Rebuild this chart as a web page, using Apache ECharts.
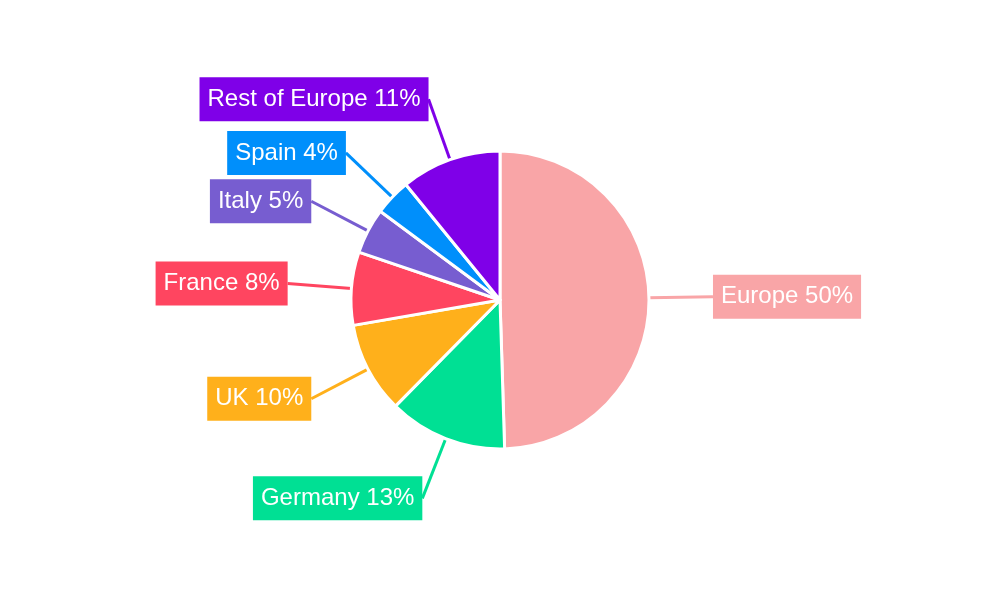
<!DOCTYPE html>
<html><head><meta charset="utf-8">
<script src="https://cdn.jsdelivr.net/npm/echarts@6/dist/echarts.min.js"></script>
<style>html,body{margin:0;padding:0;background:#fff}#c{width:1000px;height:600px}</style>
</head><body><div id="c"></div>
<script>
const categories = ["Europe","Germany","UK","France","Italy","Spain","Rest of Europe"];
const values = [50,13,10,8,5,4,11];
const colors = ["#F9A5A7","#00E094","#FFB01B","#FF4560","#775DD0","#008FFB","#7F00E8"];
const chart = echarts.init(document.getElementById('c'));
chart.setOption({
  animation:false,
  series:[{
    type:'pie',
    center:[500,300],
    radius:[0,149],
    startAngle:90,
    clockwise:true,
    itemStyle:{borderColor:'#fff',borderWidth:3},
    label:{
      show:true,
      formatter:p=>p.name+' '+p.value+'%',
      color:'#fff',
      fontFamily:'Liberation Sans, Arial, sans-serif',
      fontSize:24,
      padding:[11,8,9,8],
      backgroundColor:'inherit',
      distanceToLabelLine:0
    },
    labelLine:{show:true,length:64,length2:0,lineStyle:{width:3}},
    data:categories.map((n,i)=>({name:n,value:values[i],itemStyle:{color:colors[i]}}))
  }]
});
</script></body></html>
